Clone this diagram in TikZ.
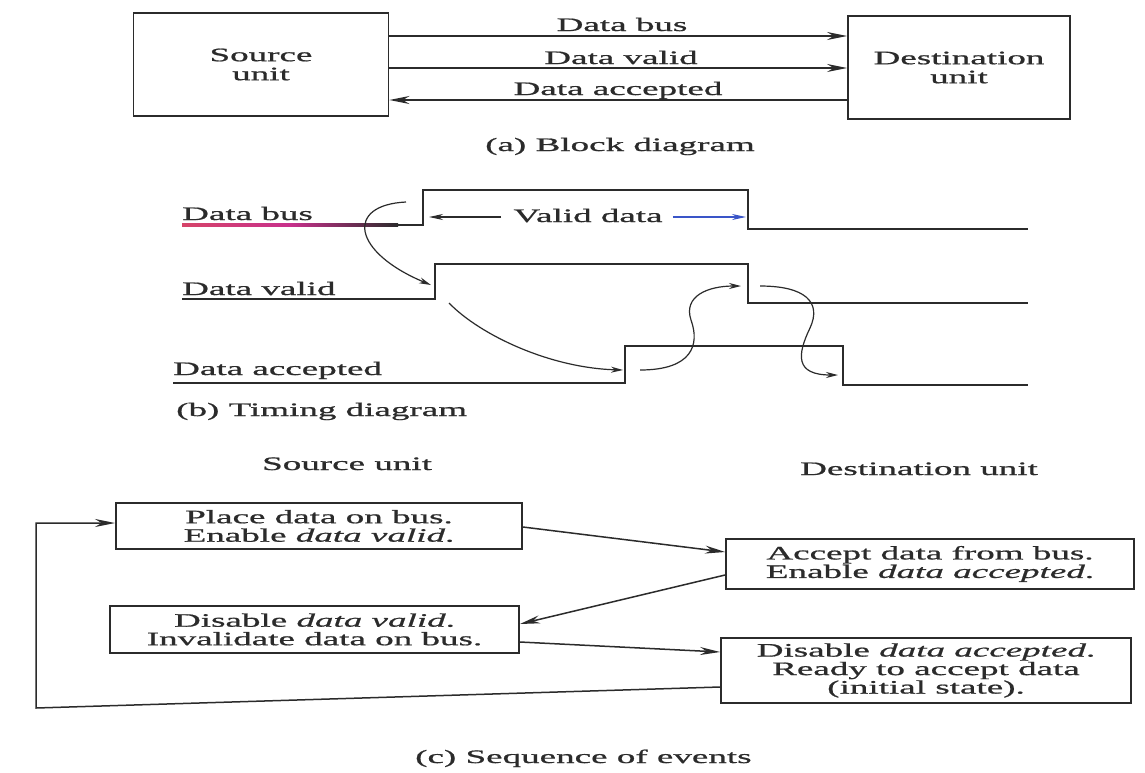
\documentclass[tikz,border=0pt]{standalone}
\usepackage{fontspec}
\setmainfont{Liberation Serif}[FakeStretch=1.95, FakeBold=0.9]
\usetikzlibrary{arrows.meta}

\definecolor{ink}{HTML}{2B2B2B}
\definecolor{busmag}{HTML}{C8308C}
\definecolor{busblue}{HTML}{3A55C8}

\tikzset{
  txt/.style={font=\fontsize{19}{19}\selectfont, text=ink, inner sep=0pt},
  unitbox/.style={draw=ink, line width=1.9pt, rectangle, align=center,
    font=\fontsize{19}{19}\selectfont, text=ink, inner sep=0pt},
  eventbox/.style={draw=ink, line width=1.9pt, rectangle, align=center,
    font=\fontsize{19}{18.5}\selectfont, text=ink, inner sep=0pt},
  sig/.style={draw=ink, line width=2.8pt, line join=miter},
  link/.style={draw=ink, line width=1.5pt, -{Stealth[length=20pt,width=8pt]}},
  cause/.style={draw=ink, line width=1.2pt, -{Stealth[length=12pt,width=6pt]}},
  span/.style={draw=ink, line width=1.1pt, -{Stealth[length=14pt,width=6pt]}},
}

\begin{document}
\begin{tikzpicture}[x=1pt, y=-1pt]
\useasboundingbox[fill=white] (0,0) rectangle (1145,772);

% ---------------- (a) block diagram ----------------
\node[unitbox, minimum width=255pt, minimum height=103pt] (src) at (261,64.5) {Source\\unit};
\node[unitbox, minimum width=222pt, minimum height=103pt] (dst) at (959,67.5) {Destination\\unit};

\draw[link] (src.east |- 0,36) -- (dst.west |- 0,36);
\draw[link] (src.east |- 0,68) -- (dst.west |- 0,68);
\draw[link] (dst.west |- 0,100) -- (src.east |- 0,100);

\node[txt, anchor=base] (lbus) at (622,31) {Data bus};
\node[txt, anchor=base] (lvalid) at (621,64) {Data valid};
\node[txt, anchor=base] (lacc) at (618,95) {Data accepted};
\node[txt, anchor=base] (capa) at (620,151) {(a) Block diagram};

% ---------------- (b) timing diagram ----------------
% data bus
\draw[sig] (182,225) -- (423,225) -- (423,190) -- (748,190) -- (748,229) -- (1028,229);
\shade[left color=busmag!75!orange, right color=ink, middle color=busmag]
  (182,223.6) rectangle (398,226.4);
% data valid
\draw[sig] (182,299) -- (435,299) -- (435,264) -- (748,264) -- (748,303) -- (1028,303);
% data accepted
\draw[sig] (173,383) -- (625,383) -- (625,346) -- (843,346) -- (843,385) -- (1028,385);

\node[txt, anchor=base west] (tbus) at (182,220) {Data bus};
\node[txt, anchor=base west] (tvalid) at (182,295) {Data valid};
\node[txt, anchor=base west] (tacc) at (173,375) {Data accepted};
\node[txt, anchor=base] (vdata) at (588,222) {Valid data};

\coordinate (vdL) at (429,217);
\coordinate (vdR) at (746,217);
\draw[span] (vdata.west |- vdL) ++(-12,0) -- (vdL);
\draw[span, draw=busblue] (vdata.east |- vdR) ++(10,0) -- (vdR);

% cause and effect arrows
\coordinate (c1s) at (406,202);
\coordinate (c1e) at (431,285);
\coordinate (c2s) at (449,303);
\coordinate (c2e) at (623,370);
\coordinate (c3s) at (640,370);
\coordinate (c3e) at (741,286);
\coordinate (c4s) at (760,286);
\coordinate (c4e) at (838,375);
\draw[cause] (c1s) .. controls (345,205) and (352,252) .. (c1e);
\draw[cause] (c2s) .. controls (480,335) and (550,368) .. (c2e);
\draw[cause] (c3s) .. controls (692,370) and (700,345) .. (691,320)
                   .. controls (683,296) and (708,286) .. (c3e);
\draw[cause] (c4s) .. controls (805,286) and (822,302) .. (810,328)
                   .. controls (797,355) and (795,375) .. (c4e);

\node[txt, anchor=base west] (capb) at (176,416) {(b) Timing diagram};

% ---------------- (c) sequence of events ----------------
\node[txt, anchor=base west] (hsrc) at (262,470) {Source unit};
\node[txt, anchor=base west] (hdst) at (800,475) {Destination unit};

\node[eventbox, minimum width=406pt, minimum height=46pt] (e1) at (319,526)
  {Place data on bus.\\Enable \textit{data valid}.};
\node[eventbox, minimum width=408pt, minimum height=50pt] (e2) at (930,564)
  {Accept data from bus.\\Enable \textit{data accepted}.};
\node[eventbox, minimum width=409pt, minimum height=47pt] (e3) at (314.5,629.5)
  {Disable \textit{data valid}.\\Invalidate data on bus.};
\node[eventbox, minimum width=410pt, minimum height=65pt] (e4) at (926,670.5)
  {Disable \textit{data accepted}.\\Ready to accept data\\(initial state).};

\draw[link] (e1.east |- 0,527) -- (e2.west |- 0,552);
\draw[link] (e2.west |- 0,575) -- (e3.east |- 0,624);
\draw[link] (e3.east |- 0,642) -- (e4.west |- 0,652);
\coordinate (loopB) at (36,708);
\coordinate (loopT) at (36,523);
\draw[link] (e4.west |- 0,687) -- (loopB) -- (loopT) -- (e1.west |- loopT);

\node[txt, anchor=base west] (capc) at (415,763) {(c) Sequence of events};
\end{tikzpicture}
\end{document}
